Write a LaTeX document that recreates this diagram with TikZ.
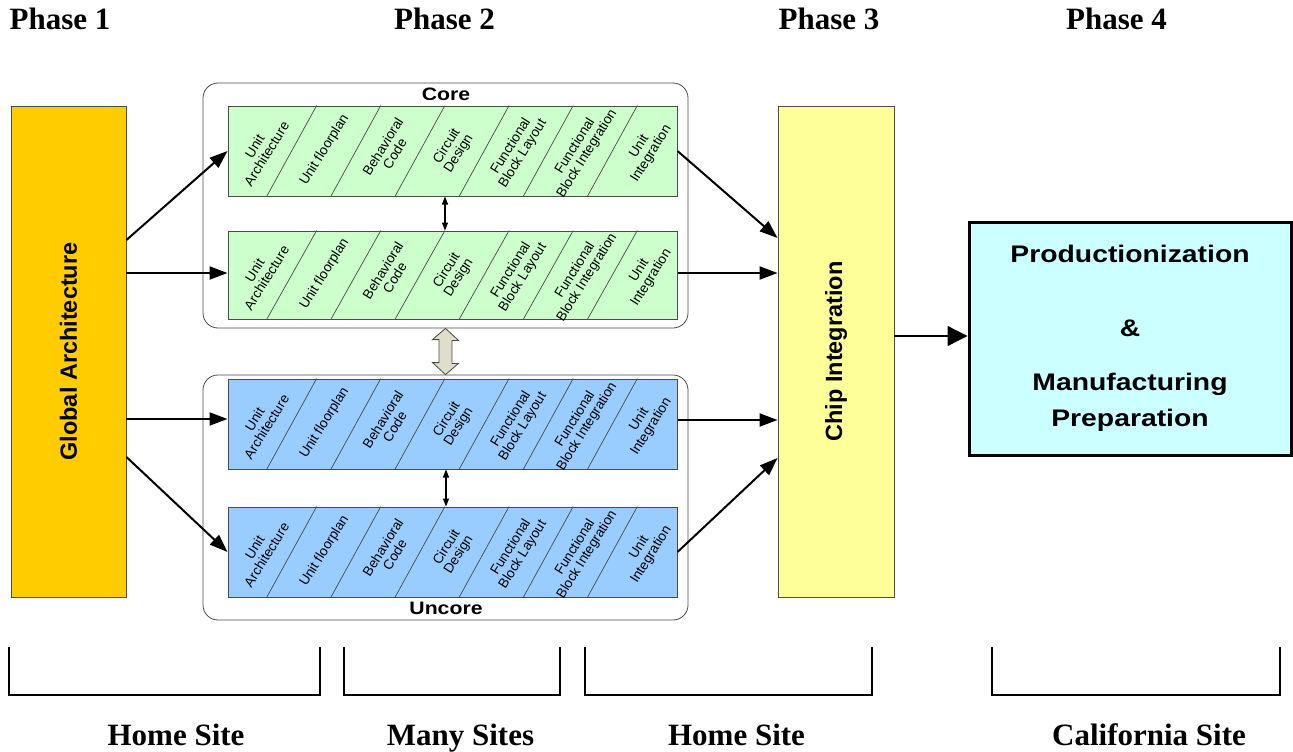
\documentclass[tikz,border=0pt]{standalone}
\usepackage{fontspec}
\setmainfont{Liberation Sans}
\newfontfamily\labelserif{Liberation Serif}
\newfontfamily\widesans[FakeStretch=1.18]{Liberation Sans}
\usetikzlibrary{arrows.meta,calc}
\definecolor{archgold}{HTML}{FFCC00}
\definecolor{chipyellow}{HTML}{FFFF99}
\definecolor{coregreen}{HTML}{CCFFCC}
\definecolor{uncoreblue}{HTML}{99CCFF}
\definecolor{prodcyan}{HTML}{CCFFFF}
\definecolor{linkfill}{HTML}{DEDECB}
\definecolor{edgegray}{HTML}{4A4A4A}
\begin{document}
\begin{tikzpicture}[x=1pt,y=-1pt,
  phase/.style={font=\labelserif\bfseries\fontsize{31}{31}\selectfont, anchor=base, inner sep=0pt},
  tallbox/.style={draw=edgegray, line width=0.9pt, minimum width=115pt, minimum height=491pt, inner sep=0pt},
  tallfont/.style={font=\bfseries\fontsize{23.5}{26}\selectfont, rotate=90, inner sep=0pt},
  group/.style={draw=edgegray, line width=0.8pt, rounded corners=15pt, fill=white, minimum width=485pt, minimum height=245pt, inner sep=0pt},
  strip/.style={draw=edgegray, line width=1pt, minimum width=449pt, inner sep=0pt},
  celltext/.style={font=\fontsize{13.6}{14}\selectfont, align=center, rotate=58, inner sep=0pt},
  divider/.style={draw=edgegray, line width=0.7pt},
  grouplabel/.style={font=\widesans\bfseries\fontsize{18}{18}\selectfont, anchor=base, inner sep=0pt},
  flow/.style={line width=2pt, -{Triangle[length=18pt,width=13pt]}},
  link/.style={line width=1.1pt, {Triangle[length=8pt,width=6pt]}-{Triangle[length=8pt,width=6pt]}},
  handoff/.style={line width=1.3pt, -{Triangle[length=20pt,width=20pt]}},
  bracket/.style={line width=1.6pt},
]
\useasboundingbox (0,0) rectangle (1293,752);

% phase headings
\node[phase] (ph1) at (60,30) {Phase 1};
\node[phase] (ph2) at (444.5,30) {Phase 2};
\node[phase] (ph3) at (829,30) {Phase 3};
\node[phase] (ph4) at (1116.5,30) {Phase 4};

% phase 1
\node[tallbox, fill=archgold] (ga) at (68.5,351.5) {};
\node[tallfont] (gatext) at (ga.center) {Global Architecture};

% phase 2: core and uncore groups
\node[group] (coregrp) at (445.5,205.5) {};
\node[group] (uncoregrp) at (445.5,497.5) {};

\node[strip, fill=coregreen, minimum height=90pt] (c1) at (452.5,151) {};
\node[strip, fill=coregreen, minimum height=88pt] (c2) at (452.5,275) {};
\node[strip, fill=uncoreblue, minimum height=90pt] (u1) at (452.5,424) {};
\node[strip, fill=uncoreblue, minimum height=90pt] (u2) at (452.5,552) {};

\foreach \s in {c1,c2,u1,u2}{
  \foreach \i in {1,...,6}
    \draw[divider] ($(\s.north west)+(\i*64.14+25,0)$) -- ($(\s.south west)+(\i*64.14-25,0)$);
  \foreach \t [count=\i from 0] in {{Unit\\Architecture},{Unit floorplan},{Behavioral\\Code},{Circuit\\Design},{Functional\\Block Layout},{Functional\\Block Integration},{Unit\\Integration}}
    \node[celltext] (\s-\i) at ($(\s.west)+(\i*64.14+33,-1)$) {\t};
}

\node[grouplabel] (corelbl) at (446,100) {Core};
\node[grouplabel] (uncorelbl) at (446,614) {Uncore};

% phase 3
\node[tallbox, fill=chipyellow, minimum width=116pt] (chip) at (836,351.5) {};
\node[tallfont] (chiptext) at (chip.center) {Chip Integration};

% phase 4
\node[draw=black, line width=3pt, fill=prodcyan, minimum width=322pt, minimum height=233pt,
      align=center, font=\widesans\bfseries\fontsize{24}{36}\selectfont] (prod) at (1130,338.5)
  {Productionization\\[38pt]\&\\[18pt]Manufacturing\\Preparation};

% flows
\draw[flow] (ga.east |- 0,240) -- (c1.west);
\draw[flow] (ga.east |- 0,273) -- (c2.west |- 0,273);
\draw[flow] (ga.east |- 0,419) -- (u1.west |- 0,419);
\draw[flow] (ga.east |- 0,457) -- (u2.west);
\draw[flow] (c1.east) -- (chip.west |- 0,238);
\draw[flow] (c2.east |- 0,273) -- (chip.west |- 0,273);
\draw[flow] (u1.east |- 0,420) -- (chip.west |- 0,420);
\draw[flow] (u2.east) -- (chip.west |- 0,458);
\draw[handoff] (chip.east |- 0,336) -- (prod.west |- 0,336);

% exchanges between strips and groups
\draw[link] (c1.south -| 445,0) -- (c2.north -| 445,0);
\draw[link] (u1.south -| 446,0) -- (u2.north -| 446,0);
\draw[draw=edgegray, line width=0.8pt, fill=linkfill]
  (coregrp.south) -- ++(13,12) -- ++(-6.5,0) -- ++(0,23) -- ++(6.5,0)
  -- (uncoregrp.north) -- ++(-13,-12) -- ++(6.5,0) -- ++(0,-23) -- ++(-6.5,0) -- cycle;

% site brackets
\draw[bracket] (9,647) -- (9,695) -- (320,695) -- (320,647);
\draw[bracket] (344,647) -- (344,695) -- (560,695) -- (560,647);
\draw[bracket] (585,647) -- (585,695) -- (872,695) -- (872,647);
\draw[bracket] (992,647) -- (992,695) -- (1280,695) -- (1280,647);

\node[phase] (site1) at (176,745) {Home Site};
\node[phase] (site2) at (460.5,745) {Many Sites};
\node[phase] (site3) at (736.5,745) {Home Site};
\node[phase] (site4) at (1149,745) {California Site};
\end{tikzpicture}
\end{document}
